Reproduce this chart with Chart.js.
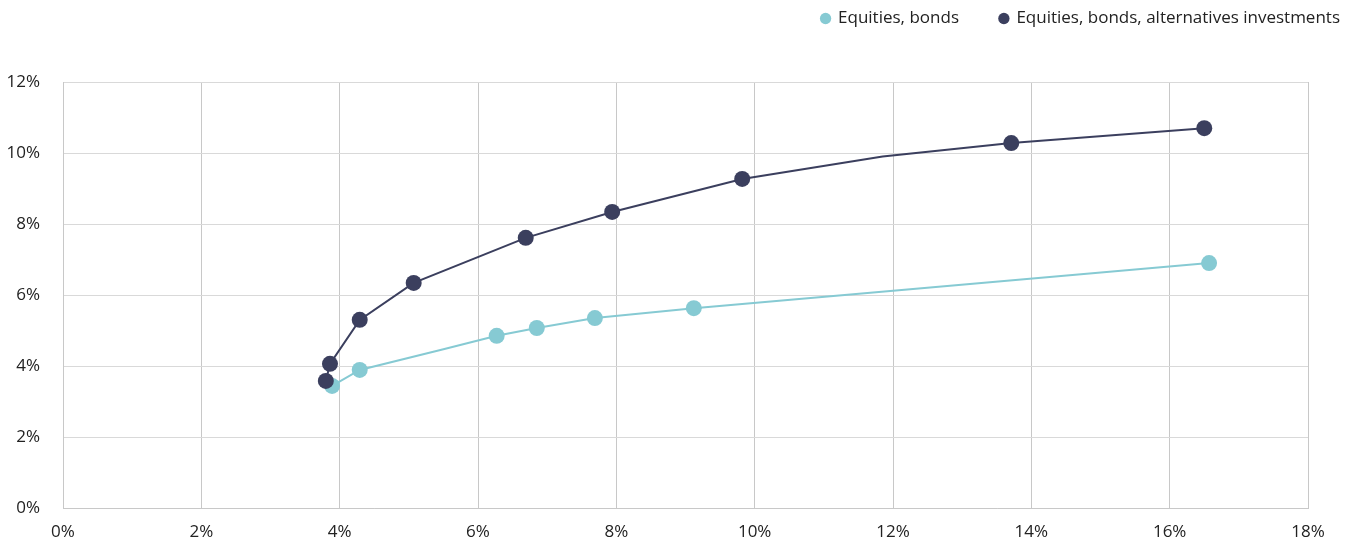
<!DOCTYPE html>
<html>
<head>
<meta charset="utf-8">
<script src="https://cdn.jsdelivr.net/npm/chart.js@4/dist/chart.umd.min.js"></script>
<style>
  html, body { margin: 0; padding: 0; background: #ffffff; }
  #wrap { width: 1357px; height: 545px; }
</style>
</head>
<body>
<div id="wrap"><canvas id="c" width="1357" height="545"></canvas></div>
<script>
// Series labels
const seriesNames = ["Equities, bonds", "Equities, bonds, alternatives investments"];

// Equities, bonds, alternatives investments (risk %, return %); marker flag 0 = line vertex only
const altRisk   = [3.80, 3.86, 4.29, 5.07, 6.69, 7.94, 9.82, 11.85, 13.71, 16.50];
const altReturn = [3.58, 4.06, 5.30, 6.34, 7.61, 8.34, 9.27, 9.90, 10.28, 10.70];
const altMarker = [1, 1, 1, 1, 1, 1, 1, 0, 1, 1];

// Equities, bonds (risk %, return %)
const ebRisk   = [3.89, 4.29, 5.50, 6.27, 6.85, 7.69, 9.12, 16.57];
const ebReturn = [3.44, 3.89, 4.47, 4.85, 5.07, 5.35, 5.63, 6.90];
const ebMarker = [1, 1, 0, 1, 1, 1, 1, 1];

// Axis ticks
const xTicks = [0, 2, 4, 6, 8, 10, 12, 14, 16, 18];
const yTicks = [0, 2, 4, 6, 8, 10, 12];

const colorLight = "#86cad3";
const colorDark = "#3b3f5e";
const FONT = "'Open Sans', sans-serif";

function pts(xs, ys) { return xs.map((x, i) => ({ x: x, y: ys[i] })); }

const legendHeight = {
  id: "legendHeight",
  beforeInit(chart) {
    const origFit = chart.legend.fit;
    chart.legend.fit = function () {
      origFit.bind(chart.legend)();
      this.height = 82;
    };
  }
};

new Chart(document.getElementById("c"), {
  type: "scatter",
  data: {
    datasets: [
      {
        label: seriesNames[1],
        data: pts(altRisk, altReturn),
        showLine: true,
        borderColor: colorDark,
        backgroundColor: colorDark,
        borderWidth: 2,
        pointRadius: altMarker.map(m => m ? 8 : 0),
        pointHoverRadius: altMarker.map(m => m ? 8 : 0),
        pointBorderWidth: 0,
        tension: 0
      },
      {
        label: seriesNames[0] + "\u00a0\u00a0\u00a0\u00a0\u00a0\u00a0\u00a0",
        data: pts(ebRisk, ebReturn),
        showLine: true,
        borderColor: colorLight,
        backgroundColor: colorLight,
        borderWidth: 2,
        pointRadius: ebMarker.map(m => m ? 8 : 0),
        pointHoverRadius: ebMarker.map(m => m ? 8 : 0),
        pointBorderWidth: 0,
        tension: 0
      }
    ]
  },
  options: {
    responsive: false,
    animation: false,
    layout: { padding: { left: 0, right: 7, top: 0, bottom: 0 } },
    plugins: {
      tooltip: { enabled: false },
      legend: {
        position: "top",
        align: "end",
        labels: {
          usePointStyle: true,
          pointStyle: "circle",
          boxWidth: 8,
          boxHeight: 8,
          padding: 10,
          color: "#222222",
          font: { family: FONT, size: 17 },
          sort: (a, b) => b.datasetIndex - a.datasetIndex
        }
      }
    },
    scales: {
      x: {
        type: "linear",
        min: 0, max: 18,
        afterBuildTicks: (s) => { s.ticks = xTicks.map(v => ({ value: v })); },
        afterFit: (s) => { s.height = 37; },
        grid: { color: "#c8c8c8", lineWidth: 1, drawTicks: false },
        border: { color: "#c8c8c8" },
        ticks: { padding: 14, color: "#222222", font: { family: FONT, size: 17 }, callback: v => v + "%" }
      },
      y: {
        type: "linear",
        min: 0, max: 12,
        afterBuildTicks: (s) => { s.ticks = yTicks.map(v => ({ value: v })); },
        afterFit: (s) => { s.width = 63; },
        grid: { color: "#d9d9d9", lineWidth: 1, drawTicks: false },
        border: { color: "#c8c8c8" },
        ticks: { padding: 23, color: "#222222", font: { family: FONT, size: 17 }, callback: v => v + "%" }
      },
      y2: {
        type: "linear",
        position: "right",
        min: 0, max: 12,
        grid: { display: false, drawTicks: false },
        border: { display: false },
        ticks: { display: false },
        afterFit: (s) => { s.width = 42; }
      }
    }
  },
  plugins: [legendHeight]
});
</script>
</body>
</html>
